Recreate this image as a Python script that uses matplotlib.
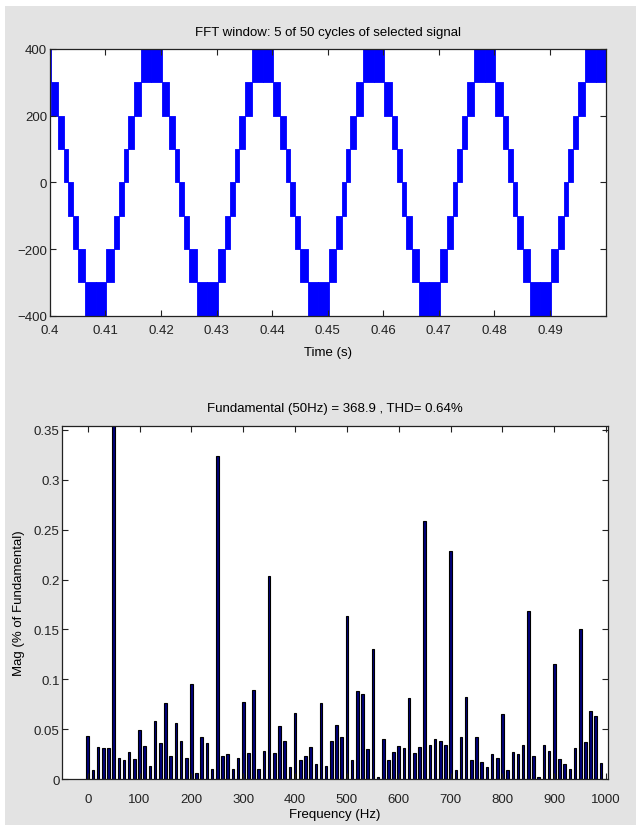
import matplotlib
matplotlib.use('Agg')
import matplotlib.pyplot as plt
from matplotlib.patches import Rectangle
from matplotlib import font_manager

# fonte estreita, parecida com a do MATLAB
nomes = set(f.name for f in font_manager.fontManager.ttflist)
if 'Liberation Sans Narrow' in nomes:
    plt.rcParams['font.family'] = ['Liberation Sans Narrow', 'DejaVu Sans']
else:
    plt.rcParams['font.family'] = ['Liberation Sans', 'DejaVu Sans']
plt.rcParams['font.size'] = 9

# --- sinal: inversor multinivel ---
# instantes dos picos positivos (s)
peak_times = [0.3983, 0.4183, 0.4383, 0.4583, 0.4783, 0.4983]
# niveis da escada (V)
levels = [400, 300, 200, 100, 0, -100, -200, -300, -400]
# deslocamento (s) a partir do pico onde cada faixa de chaveamento termina
band_edges = [0.0, 0.0019, 0.0032, 0.0042, 0.0050, 0.0058, 0.0068, 0.0081, 0.0100]

# --- espectro ---
freqs = list(range(0, 1000, 10))
mags = [0.0433, 0.009, 0.032, 0.031, 0.031, 100, 0.021, 0.019, 0.0275, 0.020,
        0.049, 0.033, 0.0138, 0.058, 0.036, 0.0765, 0.0235, 0.0567, 0.038, 0.021,
        0.095, 0.0064, 0.042, 0.036, 0.010, 0.324, 0.0235, 0.025, 0.010, 0.021,
        0.0775, 0.026, 0.0896, 0.010, 0.028, 0.204, 0.026, 0.053, 0.038, 0.0124,
        0.066, 0.019, 0.0235, 0.032, 0.015, 0.0765, 0.0138, 0.038, 0.054, 0.042,
        0.163, 0.019, 0.0886, 0.085, 0.030, 0.1305, 0.0027, 0.0406, 0.019, 0.0275,
        0.033, 0.031, 0.081, 0.026, 0.032, 0.259, 0.0345, 0.0406, 0.038, 0.0345,
        0.2285, 0.009, 0.042, 0.0825, 0.019, 0.042, 0.0175, 0.0124, 0.025, 0.021,
        0.0654, 0.009, 0.0275, 0.025, 0.0345, 0.168, 0.0235, 0.0027, 0.0345, 0.0285,
        0.1155, 0.020, 0.015, 0.010, 0.031, 0.150, 0.037, 0.068, 0.063, 0.016]

time_ticks = [0.4, 0.41, 0.42, 0.43, 0.44, 0.45, 0.46, 0.47, 0.48, 0.49]
volt_ticks = [-400, -200, 0, 200, 400]
freq_ticks = list(range(0, 1001, 100))
mag_ticks = [0, 0.05, 0.1, 0.15, 0.2, 0.25, 0.3, 0.35]

W, H = 639, 829
fig = plt.figure(figsize=(W / 100, H / 100), dpi=100, facecolor='white')
fig.patches.append(Rectangle((5 / W, 3 / H), 631 / W, 819 / H, transform=fig.transFigure,
                             facecolor='#e3e3e3', edgecolor='none', zorder=-10))


def estilo(ax, xpad=2):
    ax.tick_params(direction='in', top=True, right=True, length=4, width=0.8,
                   labelsize=9.5, colors='#222222', pad=2)
    ax.tick_params(axis='x', pad=xpad)
    for s in ax.spines.values():
        s.set_linewidth(0.9)
        s.set_color('#222222')


# GRAFICO 1: forma de onda
ax1 = fig.add_axes([49.8 / W, 1 - 316.7 / H, 555.7 / W, 266.7 / H])
for p in peak_times:
    for k in range(len(levels) - 1):
        lo, hi = levels[k + 1], levels[k]
        # descida
        t0, t1 = p + band_edges[k], p + band_edges[k + 1]
        ax1.fill_between([t0, t1], lo, hi, color='#0000ff', linewidth=0.6, edgecolor='#0000ff')
        # subida
        t0, t1 = p - band_edges[k + 1], p - band_edges[k]
        ax1.fill_between([t0, t1], lo, hi, color='#0000ff', linewidth=0.6, edgecolor='#0000ff')
ax1.set_xlim(0.4, 0.5)
ax1.set_ylim(-400, 400)
ax1.set_xticks(time_ticks)
ax1.set_xticklabels([('%g' % t) for t in time_ticks])
ax1.set_yticks(volt_ticks)
ax1.set_title('FFT window: 5 of 50 cycles of selected signal', fontsize=9.5, pad=10)
ax1.set_xlabel('Time (s)', fontsize=9.5, labelpad=7)
estilo(ax1, xpad=6)

# GRAFICO 2: espectro
ax2 = fig.add_axes([62.3 / W, 1 - 780.3 / H, 545.4 / W, 353.3 / H])
ax2.bar(freqs, mags, width=5, color='#00007a', edgecolor='black', linewidth=0.8)
ax2.set_xlim(-49, 1003)
ax2.set_ylim(0, 0.3537)
ax2.set_xticks(freq_ticks)
ax2.set_yticks(mag_ticks)
ax2.set_yticklabels([('%g' % m) for m in mag_ticks])
ax2.set_title('Fundamental (50Hz) = 368.9 , THD= 0.64%', fontsize=9.5, pad=11)
ax2.set_xlabel('Frequency (Hz)', fontsize=9.5, labelpad=2)
ax2.set_ylabel('Mag (% of Fundamental)', fontsize=9.5, labelpad=6)
estilo(ax2, xpad=10)

fig.savefig('out.png', dpi=100, facecolor=fig.get_facecolor())
